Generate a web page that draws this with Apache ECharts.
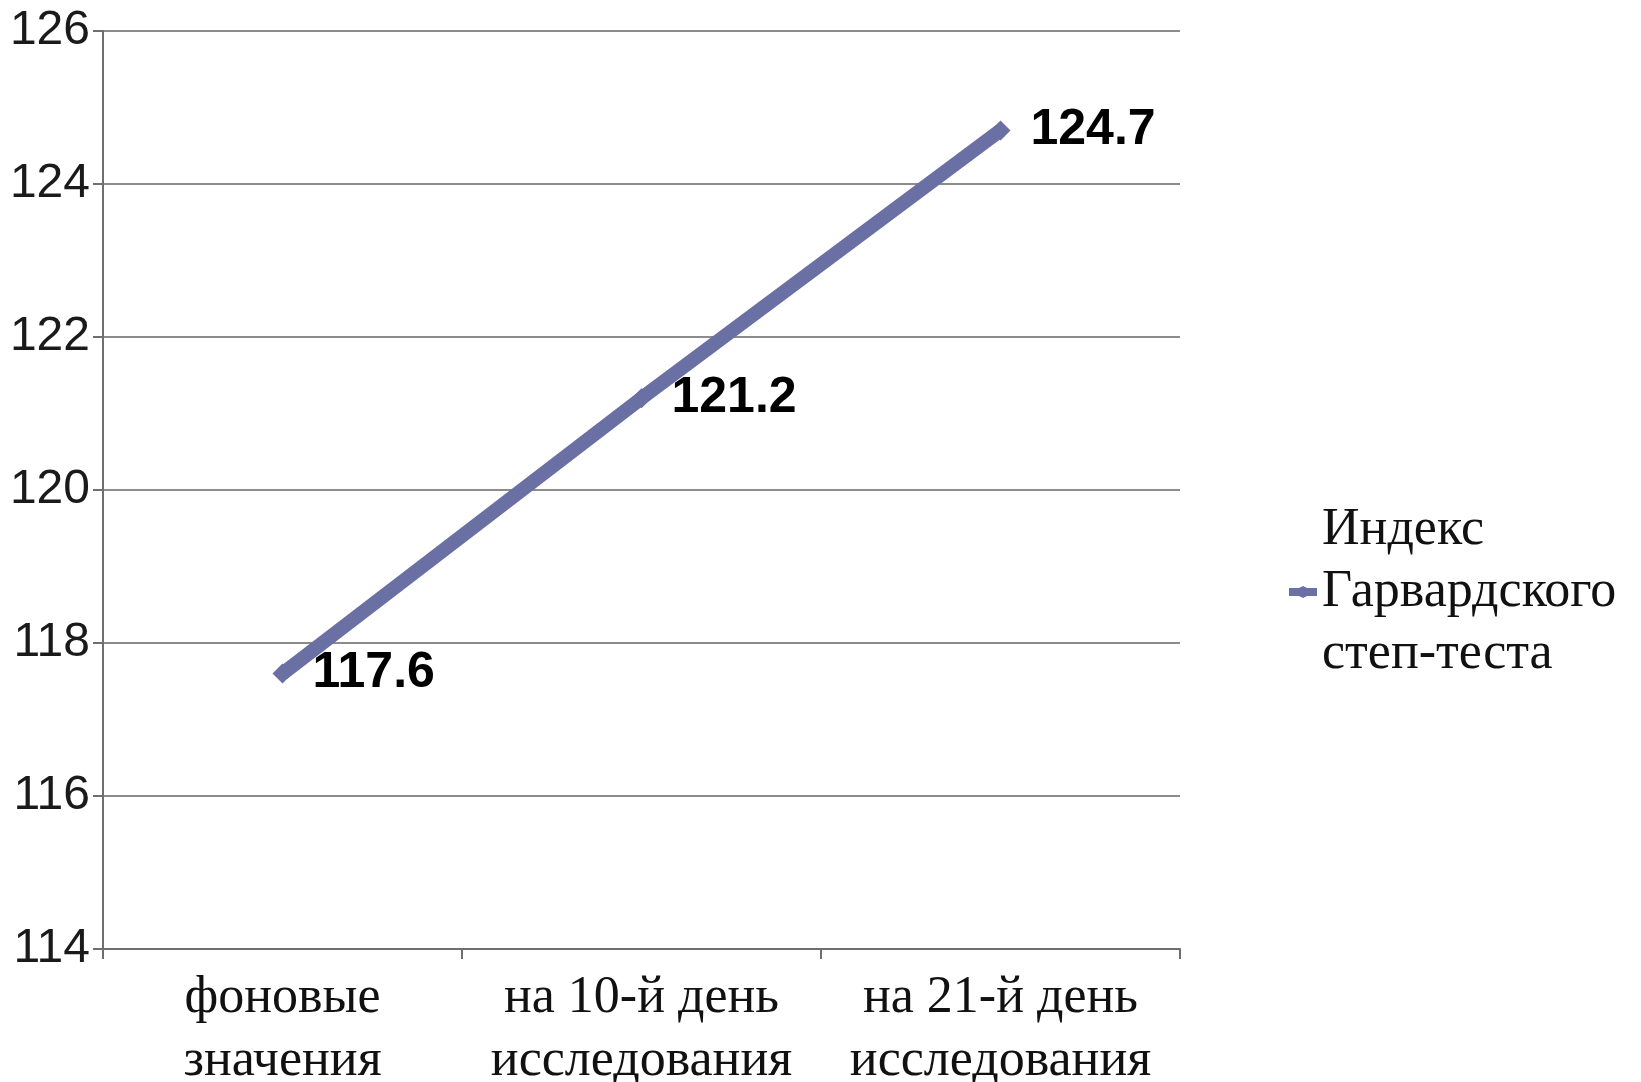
<!DOCTYPE html>
<html>
<head>
<meta charset="utf-8">
<script src="https://cdn.jsdelivr.net/npm/echarts@6/dist/echarts.min.js"></script>
<style>
html,body{margin:0;padding:0;background:#fff;overflow:hidden;}
#chart{width:1641px;height:1082px;}
</style>
</head>
<body>
<div id="chart"></div>
<script>
// Harvard step test index over the study period
const categories = ['фоновые\nзначения', 'на 10-й день\nисследования', 'на 21-й день\nисследования'];
const seriesName = 'Индекс\nГарвардского\nстеп-теста';
const values = [117.6, 121.2, 124.7];
const yMin = 114, yMax = 126, yStep = 2;

// legend glyph: short thick line with a diamond marker in the middle
const legendIcon = 'path://M0,2 L10,2 L14,0 L18,2 L28,2 L28,10 L18,10 L14,12 L10,10 L0,10 Z';

const chart = echarts.init(document.getElementById('chart'));
chart.setOption({
  animation: false,
  backgroundColor: '#fff',
  grid: {
    left: 103, right: 461, top: 31, bottom: 133,
    containLabel: false,
    outerBoundsMode: 'none'
  },
  legend: {
    data: [{ name: seriesName, icon: legendIcon }],
    orient: 'vertical',
    left: 1284,
    top: 494,
    itemWidth: 28,
    itemHeight: 12,
    itemGap: 0,
    textStyle: {
      fontFamily: 'Liberation Serif',
      fontSize: 52,
      lineHeight: 62,
      color: '#111'
    }
  },
  xAxis: {
    type: 'category',
    data: categories,
    boundaryGap: true,
    axisLine: { lineStyle: { color: '#6f6f6f', width: 2 } },
    axisTick: { show: true, interval: 0, length: 10, lineStyle: { color: '#6f6f6f', width: 2 } },
    axisLabel: {
      interval: 0,
      hideOverlap: false,
      margin: 18,
      fontFamily: 'Liberation Serif',
      fontSize: 52,
      lineHeight: 63,
      color: '#111'
    },
    splitLine: { show: false }
  },
  yAxis: {
    type: 'value',
    min: yMin,
    max: yMax,
    interval: yStep,
    axisLine: { show: true, lineStyle: { color: '#6f6f6f', width: 2 } },
    axisTick: { show: true, length: 10, lineStyle: { color: '#6f6f6f', width: 2 } },
    axisLabel: {
      margin: 13,
      fontFamily: 'Liberation Sans',
      fontSize: 48,
      color: '#1a1a1a'
    },
    splitLine: { show: true, lineStyle: { color: '#8c8c8c', width: 2 } }
  },
  series: [{
    name: seriesName,
    type: 'line',
    data: values,
    symbol: 'diamond',
    symbolSize: 20,
    itemStyle: { color: '#6A70A3' },
    lineStyle: { color: '#6A70A3', width: 14 },
    label: {
      show: true,
      position: 'right',
      distance: 20,
      fontFamily: 'Liberation Sans',
      fontWeight: 'bold',
      fontSize: 50,
      color: '#000'
    }
  }]
});
</script>
</body>
</html>
